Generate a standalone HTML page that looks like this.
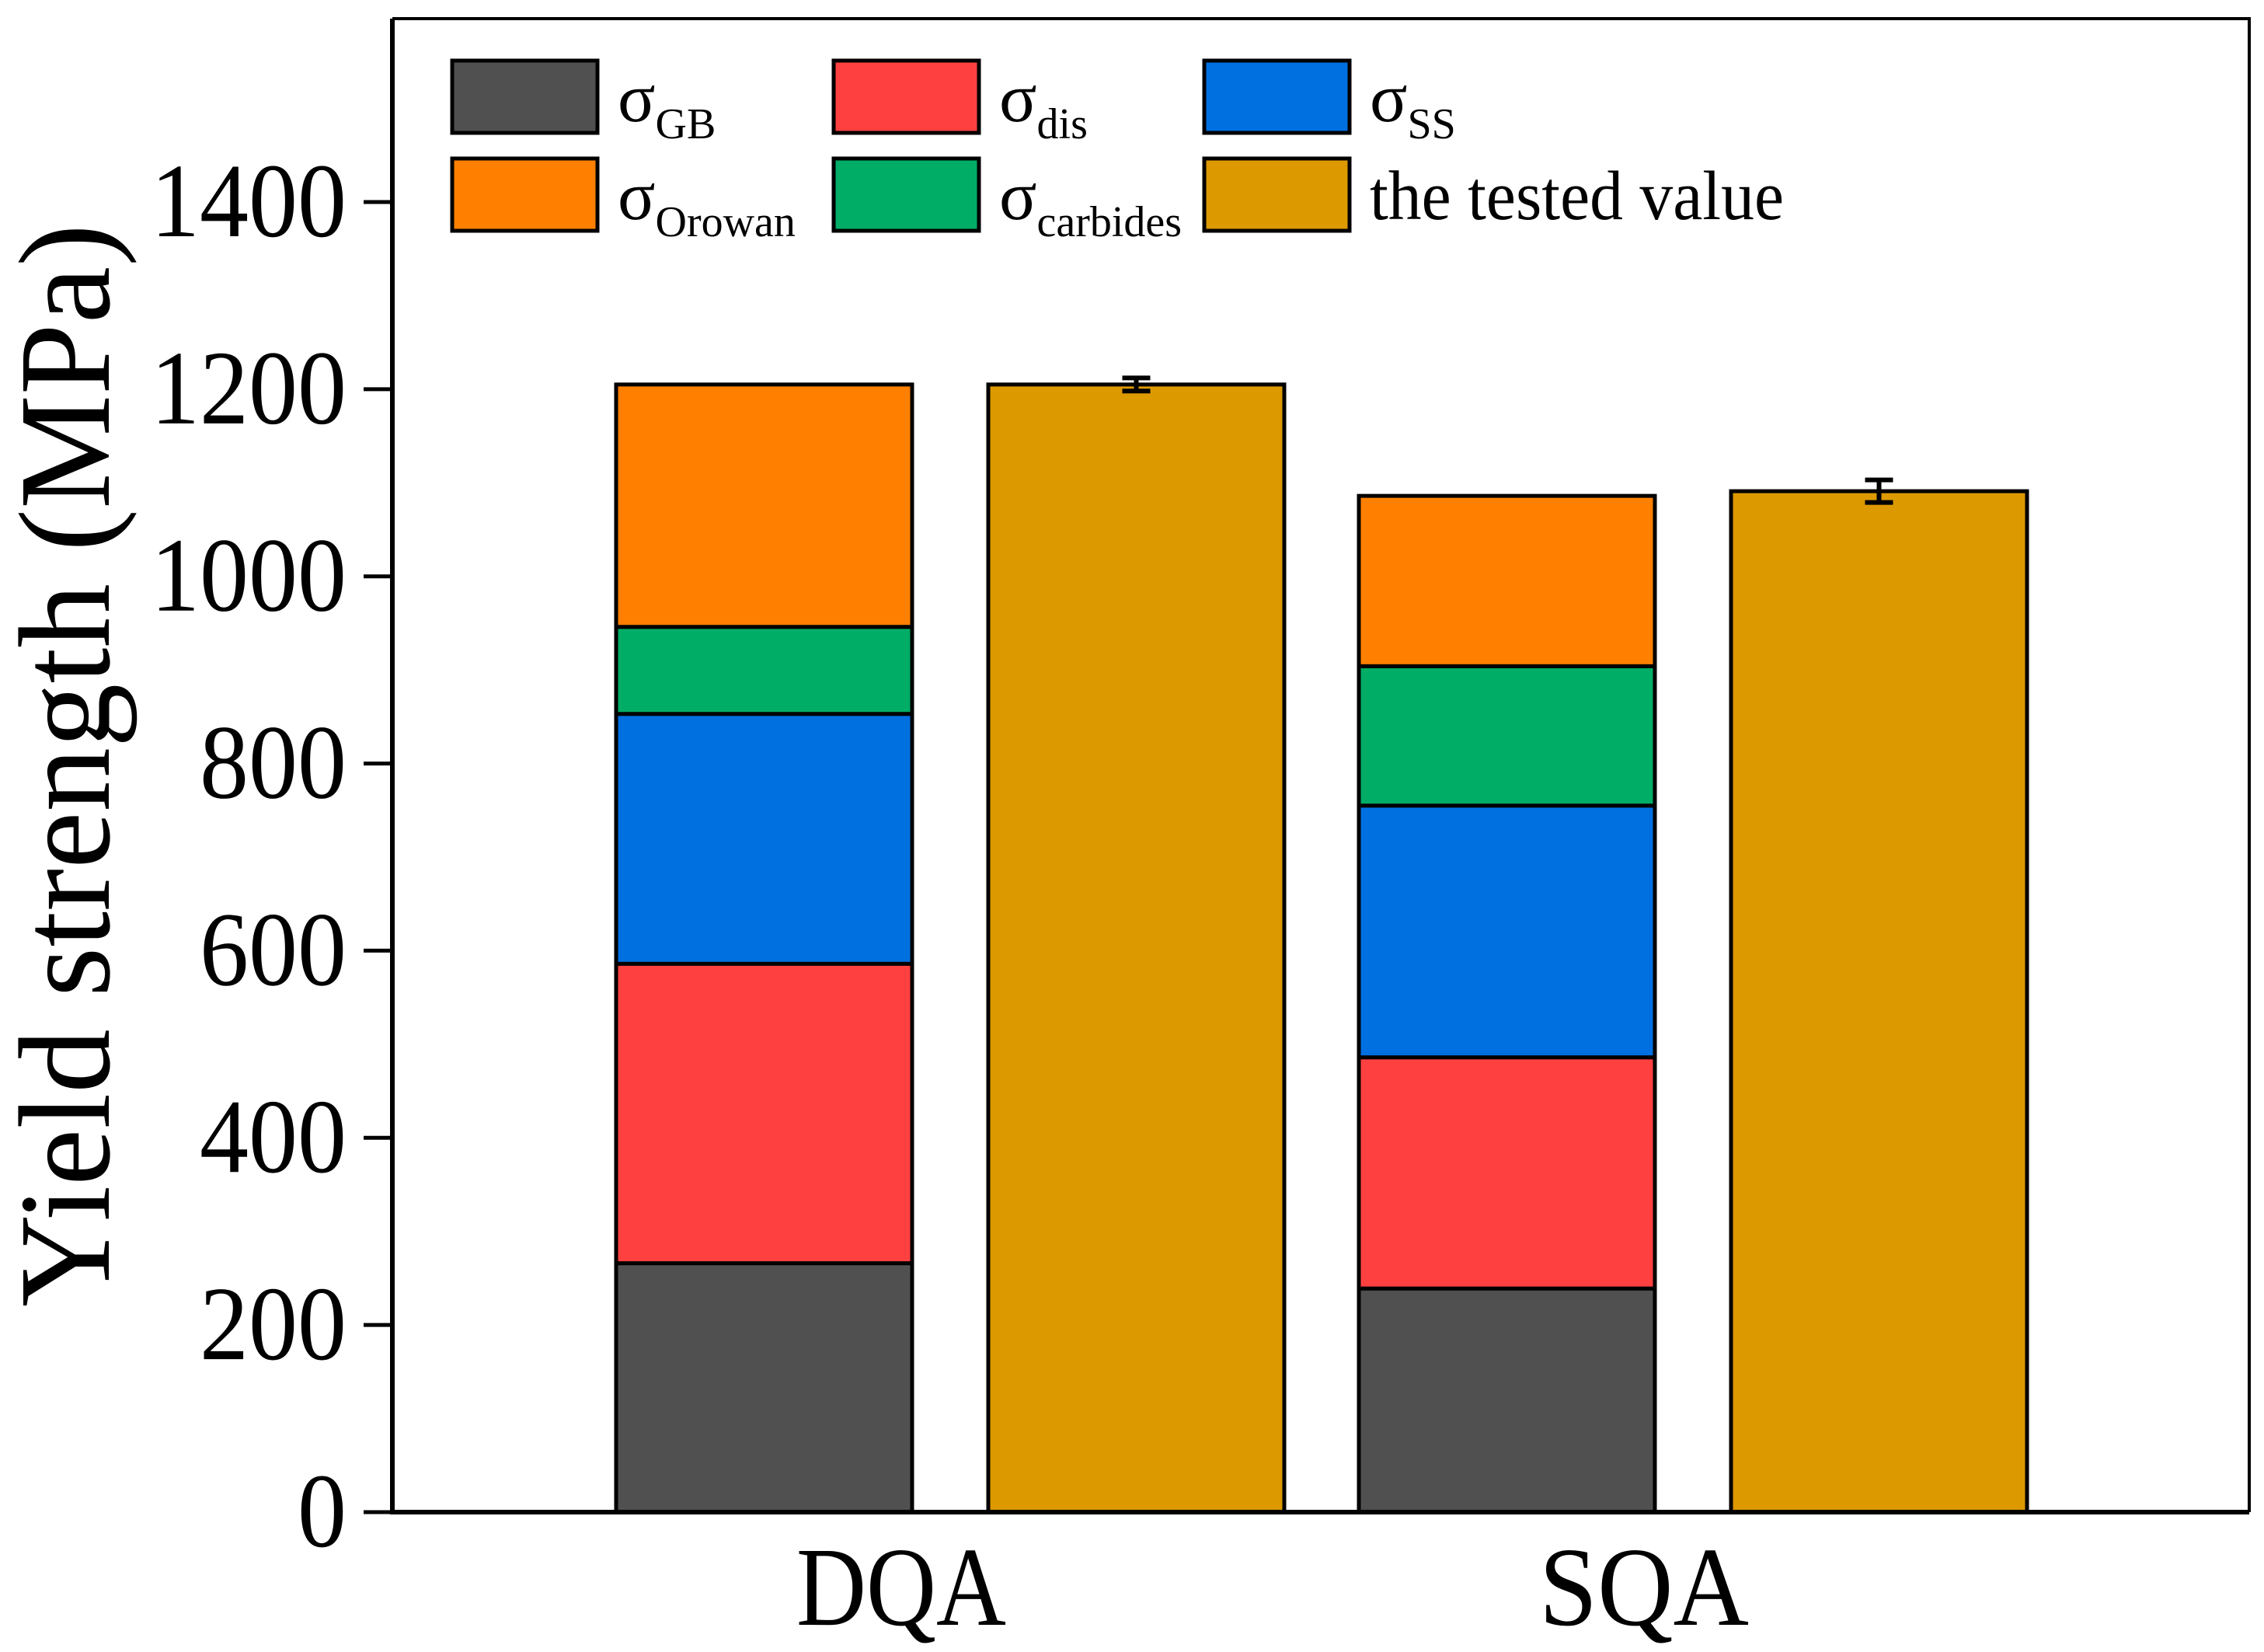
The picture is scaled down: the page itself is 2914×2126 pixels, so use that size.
<!DOCTYPE html>
<html><head><meta charset="utf-8"><style>
html,body{margin:0;padding:0;background:#fff;}
svg{display:block;}
text{font-family:"Liberation Serif","Times New Roman",serif;fill:#000;}
</style></head><body>
<svg id="chart" width="2914" height="2126" viewBox="0 0 2914 2126" xmlns="http://www.w3.org/2000/svg">
<g id="bars"></g>
<g id="axes"></g>
<g id="legend"></g>
</svg>
<script>
const groups = ["DQA", "SQA"];
const components = ["GB", "dis", "SS", "carbides", "Orowan"];
const componentColors = ["#505050", "#ff4040", "#0070e0", "#00ad66", "#ff8000"];
const dqaValues = [266, 320, 267, 93, 259];
const sqaValues = [239, 247, 269, 149, 182];
const testedValues = [1205, 1091];
const testedErrors = [7, 12];
const yTicks = [0, 200, 400, 600, 800, 1000, 1200, 1400];

const NS = "http://www.w3.org/2000/svg";
const X0 = 505, X1 = 2895, Y0 = 1946, YT = 24;
const yScale = v => Y0 - v * (1686 / 1400);
const barW = 381;
const groupLeft = i => 793 + i * 956;
function el(tag, attrs, parent) {
  const e = document.createElementNS(NS, tag);
  for (const k in attrs) e.setAttribute(k, attrs[k]);
  parent.appendChild(e);
  return e;
}
const bars = document.getElementById("bars");
const axes = document.getElementById("axes");
const legend = document.getElementById("legend");
const stacks = [dqaValues, sqaValues];

groups.forEach((g, gi) => {
  let cum = 0;
  const x = groupLeft(gi);
  stacks[gi].forEach((v, ci) => {
    const yTop = yScale(cum + v), yBot = yScale(cum);
    const r = el("rect", {x: x, y: yTop, width: barW, height: yBot - yTop, fill: componentColors[ci], stroke: "#000", "stroke-width": 5}, bars);
    
    
    cum += v;
  });
  const tx = x + 479;
  const ty = yScale(testedValues[gi]);
  const t = el("rect", {x: tx, y: ty, width: barW, height: Y0 - ty, fill: "#dc9900", stroke: "#000", "stroke-width": 5}, bars);
  
  
  const cx = tx + barW / 2;
  const e1 = yScale(testedValues[gi] + testedErrors[gi]), e2 = yScale(testedValues[gi] - testedErrors[gi]);
  const eb = el("path", {d: `M${cx},${e1}V${e2}M${cx-18},${e1}H${cx+18}M${cx-18},${e2}H${cx+18}`, stroke: "#000", "stroke-width": 6, fill: "none"}, bars);
  
  
  const lbl = el("text", {x: groupLeft(gi) + 367, y: 2091, "font-size": 145, "text-anchor": "middle", textLength: 270, lengthAdjust: "spacingAndGlyphs"}, axes);
  lbl.textContent = g;
  
  
});

const frame = el("path", {d: `M${X0},${YT}H${X1}V${Y0}`, stroke: "#000", "stroke-width": 4, fill: "none"}, axes);


const ax = el("path", {d: `M${X0},${YT}V${Y0}H${X1}`, stroke: "#000", "stroke-width": 6, fill: "none"}, axes);


yTicks.forEach(v => {
  const y = yScale(v);
  const tk = el("line", {x1: X0 - 37, x2: X0, y1: y, y2: y, stroke: "#000", "stroke-width": 5}, axes);
  
  
  const s = String(v);
  const tl = el("text", {x: 446, y: y + 44, "font-size": 136, "text-anchor": "end", textLength: s.length * 63, lengthAdjust: "spacingAndGlyphs"}, axes);
  tl.textContent = s;
  
  
});
const yt = el("text", {x: 0, y: 0, "font-size": 168, "text-anchor": "middle", textLength: 1394, lengthAdjust: "spacingAndGlyphs", transform: "translate(140,985) rotate(-90)"}, axes);
yt.textContent = "Yield strength (MPa)";



const legendItems = [
  {c: "#505050", s: "GB"}, {c: "#ff4040", s: "dis"}, {c: "#0070e0", s: "SS"},
  {c: "#ff8000", s: "Orowan"}, {c: "#00ad66", s: "carbides"}, {c: "#dc9900", s: null}
];
const colX = [582, 1073, 1550];
const rowY = [78, 204];
legendItems.forEach((it, i) => {
  const x = colX[i % 3], y = rowY[Math.floor(i / 3)];
  const sw = el("rect", {x: x, y: y, width: 187, height: 93, fill: it.c, stroke: "#000", "stroke-width": 5}, legend);
  
  
  const t = el("text", {x: x + 213, y: y + 78, "font-size": 90}, legend);
  
  
  if (it.s) {
    t.textContent = "σ";
    const sub = el("tspan", {"font-size": 56, dy: 22}, t);
    sub.textContent = it.s;
  } else {
    t.textContent = "the tested value";
    t.setAttribute("textLength", 533);
    t.setAttribute("lengthAdjust", "spacingAndGlyphs");
  }
});
</script>
</body></html>
